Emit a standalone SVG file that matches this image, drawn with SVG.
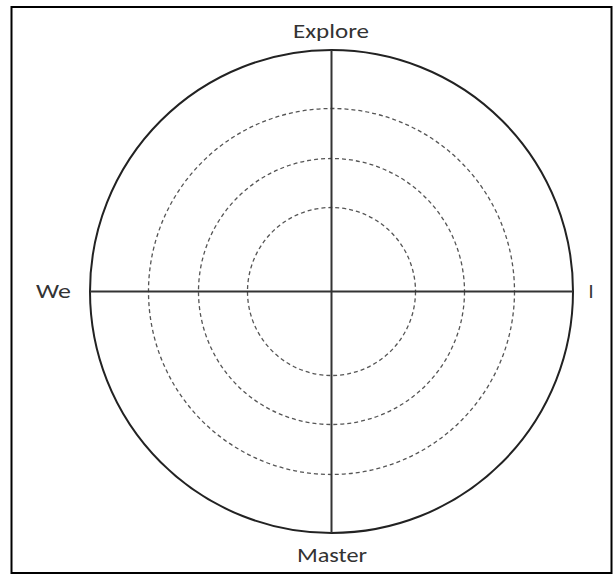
<svg xmlns="http://www.w3.org/2000/svg" width="614" height="576" viewBox="0 0 614 576">
<style>
.frame{fill:none;stroke:#000;stroke-width:2}
.outer{fill:none;stroke:#222;stroke-width:2}
.ring{fill:none;stroke:#555;stroke-width:1.3;stroke-dasharray:4 3}
.axis{stroke:#333;stroke-width:2}
.lbl{font-family:Carlito,"Liberation Sans",sans-serif;font-size:20px;fill:#333}
</style>
<rect x="0" y="0" width="614" height="576" fill="#fff"/>
<rect class="frame" x="11.5" y="7" width="600" height="566"/>
<g id="rings">
<circle class="outer" cx="331.5" cy="291.5" r="241.5"/>
<circle class="ring" cx="331.5" cy="291.5" r="183"/>
<circle class="ring" cx="331.5" cy="291.5" r="133"/>
<circle class="ring" cx="331.5" cy="291.5" r="84"/>
</g>
<g id="connectors">
<line class="axis" x1="331.5" y1="50" x2="331.5" y2="533"/>
<line class="axis" x1="90" y1="291.5" x2="573" y2="291.5"/>
</g>
<g id="explore"><text class="lbl" x="293" y="38" textLength="76" lengthAdjust="spacingAndGlyphs">Explore</text></g>
<g id="we"><text class="lbl" x="36" y="298" textLength="35" lengthAdjust="spacingAndGlyphs">We</text></g>
<g id="i"><text class="lbl" x="591" y="298" text-anchor="middle">I</text></g>
<g id="master"><text class="lbl" x="297" y="562" textLength="70" lengthAdjust="spacingAndGlyphs">Master</text></g>
</svg>
